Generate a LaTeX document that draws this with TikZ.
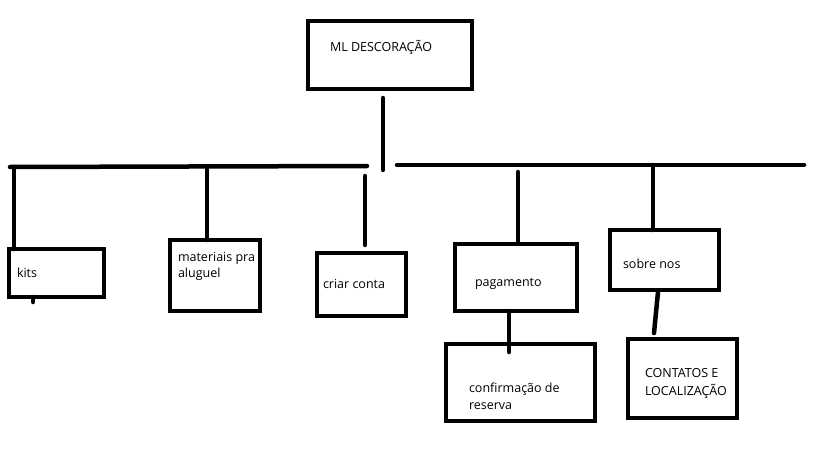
\documentclass[tikz,border=0pt]{standalone}
\usepackage{fontspec}
\setmainfont{Open Sans}
\begin{document}
\begin{tikzpicture}[x=1pt,y=-1pt,
  box/.style={draw=black,line width=4.5pt,rectangle,inner sep=0pt,outer sep=0pt},
  conn/.style={draw=black,line width=4.5pt,line cap=round},
  lbl/.style={inner sep=0pt,outer sep=0pt,anchor=base west,align=left,font=\fontsize{12.5}{17}\selectfont}]
\useasboundingbox[fill=white] (0,0) rectangle (819,460);
% boxes
\node[box,minimum width=164pt,minimum height=68pt] (top) at (390,55) {};
\node[box,minimum width=95pt,minimum height=48pt] (kits) at (56.5,273) {};
\node[box,minimum width=90pt,minimum height=71pt] (mat) at (215,275.5) {};
\node[box,minimum width=89pt,minimum height=63pt] (criar) at (361.5,284.5) {};
\node[box,minimum width=122pt,minimum height=67pt] (pag) at (516,277.5) {};
\node[box,minimum width=149pt,minimum height=77pt] (conf) at (520.5,382.5) {};
\node[box,minimum width=109pt,minimum height=60pt] (sobre) at (664.5,260) {};
\node[box,minimum width=109pt,minimum height=79pt] (cont) at (682.5,378.5) {};
% texts (base = baseline of last line)
\node[lbl] (ttop) at (330,52) {ML DESCORAÇÃO};
\node[lbl] (tkits) at (17,277) {kits};
\node[lbl,font=\fontsize{12.5}{15.5}\selectfont] (tmat) at (178,277) {materiais pra\\aluguel};
\node[lbl] (tcriar) at (323,288) {criar conta};
\node[lbl] (tpag) at (475,286) {pagamento};
\node[lbl] (tconf) at (469,409) {confirmação de\\reserva};
\node[lbl,font=\fontsize{12.5}{18}\selectfont] (tcont) at (645,395) {CONTATOS E\\LOCALIZAÇÃO};
\node[lbl] (tsobre) at (623,268) {sobre nos};
% coordinates
\coordinate (t0) at (383,98);
\coordinate (t1) at (383,170);
\coordinate (bL1) at (10,167);
\coordinate (bL2) at (367,166);
\coordinate (bR1) at (397,165);
\coordinate (bR2) at (804,165);
\coordinate (k0) at (14,167);
\coordinate (kt) at (33,302);
\coordinate (m0) at (207,167);
\coordinate (c0) at (365,176);
\coordinate (c1) at (365,245);
\coordinate (p0) at (518,172);
\coordinate (pc) at (509,352);
\coordinate (s0) at (653,165);
\coordinate (sc0) at (658,292);
\coordinate (sc1) at (654,333);
% connectors
\draw[conn] (t0) -- (t1);
\draw[conn] (bL1) -- (bL2);
\draw[conn] (bR1) -- (bR2);
\draw[conn] (k0) -- (k0 |- kits.north);
\draw[conn] (kt |- kits.south) -- (kt);
\draw[conn] (m0) -- (m0 |- mat.north);
\draw[conn] (c0) -- (c1);
\draw[conn] (p0) -- (p0 |- pag.north);
\draw[conn] (pc |- pag.south) -- (pc);
\draw[conn] (s0) -- (s0 |- sobre.north);
\draw[conn] (sc0) -- (sc1);
\end{tikzpicture}
\end{document}
